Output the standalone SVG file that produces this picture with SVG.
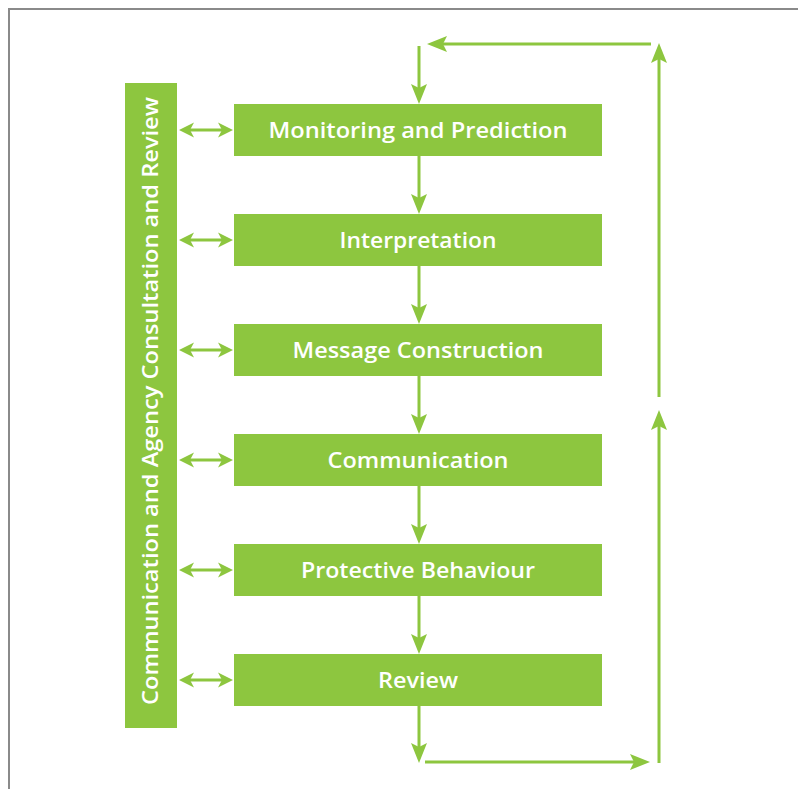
<svg xmlns="http://www.w3.org/2000/svg" width="798" height="789" viewBox="0 0 798 789">
<defs>
<style>
.box{fill:#8DC63F}
.lbl{font-family:"Open Sans","Liberation Sans",sans-serif;font-weight:600;font-size:21px;fill:#ffffff;text-anchor:middle}
.c{stroke:#8DC63F;stroke-width:3;fill:none}
.big{marker-end:url(#ah)}
.dbl{marker-start:url(#sh);marker-end:url(#sh)}
</style>
<marker id="ah" markerUnits="userSpaceOnUse" orient="auto" refX="0" refY="0" overflow="visible">
<path d="M10,0 L-10,-8 L-6,0 L-10,8 Z" fill="#8DC63F"/>
</marker>
<marker id="sh" markerUnits="userSpaceOnUse" orient="auto-start-reverse" refX="0" refY="0" overflow="visible">
<path d="M7,0 L-8,-7.5 L-4,0 L-8,7.5 Z" fill="#8DC63F"/>
</marker>
</defs>
<rect width="798" height="789" fill="#ffffff"/>
<path d="M9,789 V9 H798" stroke="#8a8a8a" stroke-width="2" fill="none"/>

<g id="side">
<rect class="box" x="125" y="83" width="52" height="645"/>
<text class="lbl" transform="translate(151,401) rotate(-90)" x="0" y="7" textLength="608" lengthAdjust="spacingAndGlyphs">Communication and Agency Consultation and Review</text>
</g>

<g id="n1"><rect class="box" x="234" y="104" width="368" height="52"/><text class="lbl" x="418" y="138" textLength="299" lengthAdjust="spacingAndGlyphs">Monitoring and Prediction</text></g>
<g id="n2"><rect class="box" x="234" y="214" width="368" height="52"/><text class="lbl" x="418" y="248" textLength="157" lengthAdjust="spacingAndGlyphs">Interpretation</text></g>
<g id="n3"><rect class="box" x="234" y="324" width="368" height="52"/><text class="lbl" x="418" y="358" textLength="251" lengthAdjust="spacingAndGlyphs">Message Construction</text></g>
<g id="n4"><rect class="box" x="234" y="434" width="368" height="52"/><text class="lbl" x="418" y="468" textLength="181" lengthAdjust="spacingAndGlyphs">Communication</text></g>
<g id="n5"><rect class="box" x="234" y="544" width="368" height="52"/><text class="lbl" x="418" y="578" textLength="234" lengthAdjust="spacingAndGlyphs">Protective Behaviour</text></g>
<g id="n6"><rect class="box" x="234" y="654" width="368" height="52"/><text class="lbl" x="418" y="688" textLength="80" lengthAdjust="spacingAndGlyphs">Review</text></g>

<g id="connectors">
<line class="c big" x1="419" y1="156" x2="419" y2="204"/>
<line class="c big" x1="419" y1="266" x2="419" y2="314"/>
<line class="c big" x1="419" y1="376" x2="419" y2="424"/>
<line class="c big" x1="419" y1="486" x2="419" y2="534"/>
<line class="c big" x1="419" y1="596" x2="419" y2="644"/>
<line class="c big" x1="419" y1="706" x2="419" y2="753"/>
<line class="c big" x1="425" y1="762" x2="640" y2="762"/>
<line class="c big" x1="659" y1="763" x2="659" y2="420"/>
<line class="c big" x1="659" y1="397" x2="659" y2="53"/>
<line class="c big" x1="651" y1="44" x2="437" y2="44"/>
<line class="c big" x1="419" y1="46" x2="419" y2="94"/>
<line class="c dbl" x1="186" y1="130" x2="226" y2="130"/>
<line class="c dbl" x1="186" y1="240" x2="226" y2="240"/>
<line class="c dbl" x1="186" y1="350" x2="226" y2="350"/>
<line class="c dbl" x1="186" y1="460" x2="226" y2="460"/>
<line class="c dbl" x1="186" y1="570" x2="226" y2="570"/>
<line class="c dbl" x1="186" y1="680" x2="226" y2="680"/>
</g>
</svg>
